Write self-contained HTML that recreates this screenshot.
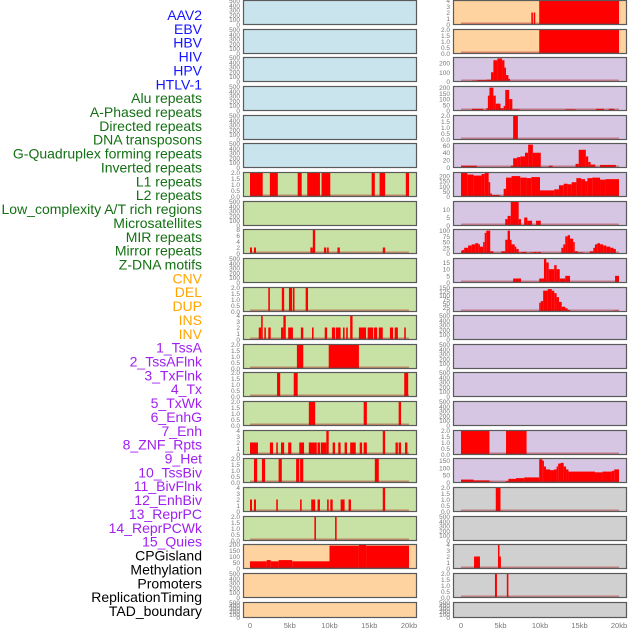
<!DOCTYPE html>
<html><head><meta charset="utf-8"><style>
html,body{margin:0;padding:0;background:#fff;width:630px;height:630px;overflow:hidden}
svg{display:block;font-family:"Liberation Sans",sans-serif}
</style></head><body>
<svg id="chart" width="630" height="630" viewBox="0 0 630 630" xmlns="http://www.w3.org/2000/svg"></svg>
<script>
// ---- track labels ----
const labelNames = ["AAV2","EBV","HBV","HIV","HPV","HTLV-1","Alu repeats","A-Phased repeats","Directed repeats","DNA transposons","G-Quadruplex forming repeats","Inverted repeats","L1 repeats","L2 repeats","Low_complexity A/T rich regions","Microsatellites","MIR repeats","Mirror repeats","Z-DNA motifs","CNV","DEL","DUP","INS","INV","1_TssA","2_TssAFlnk","3_TxFlnk","4_Tx","5_TxWk","6_EnhG","7_Enh","8_ZNF_Rpts","9_Het","10_TssBiv","11_BivFlnk","12_EnhBiv","13_ReprPC","14_ReprPCWk","15_Quies","CPGisland","Methylation","Promoters","ReplicationTiming","TAD_boundary"];
const labelGroups = [6,13,5,15,5];
const groupColors = ["#1515ff","#137013","#ffa500","#a020f0","#000000"];

// ---- x axis ----
const xTicks = [0,5,10,15,20];
const xTickLabels = ["0","5kb","10kb","15kb","20kb"];

// ---- left column panel data: [startKb, endKb, value] ----
const L6 = [[0,1.6,2],[2.5,3.5,2],[6,6.5,2],[7.2,8.8,2],[9,10.1,2],[15.3,15.7,2],[16.3,17,2],[19.6,20,2]];
const L8 = [[0,0.25,2],[0.5,0.75,2],[7.6,7.9,2],[7.9,8.2,8],[9.3,9.6,2],[9.7,9.9,2],[11,11.3,2],[16.7,17,2]];
const L10 = [[2.3,2.5,2],[4,4.3,2],[4.9,5.3,2],[5.4,5.6,2],[7,7.3,2]];
const L11 = [[1.1,1.4,2],[1.4,1.6,4],[1.8,2.0,2],[2.3,2.6,2],[3.9,4.2,2],[4.2,4.5,4],[4.8,5.4,2],[6.4,6.7,2],[7.8,8.0,2],[9.4,9.7,2],[10.3,10.7,2],[10.8,11.4,2],[11.7,11.9,2],[12.1,12.3,2],[12.6,12.9,4],[13.7,14.6,2],[14.8,15.5,2],[15.6,16.0,2],[16.2,16.7,2],[17.6,18.0,2],[18.2,18.6,2],[19.4,19.6,2]];
const L12 = [[5.9,6.7,2],[9.9,13.7,2]];
const L13 = [[3.4,3.8,2],[5.5,6.0,2],[19.4,19.9,2]];
const L14 = [[7.4,8.2,2],[14.3,14.7,2],[18.7,19.0,2]];
const L15 = [[0,1.0,2],[2.5,2.9,2],[3.3,3.5,2],[3.9,4.3,2],[4.8,5.2,2],[6.2,6.8,2],[7.4,8.4,2],[8.5,8.8,2],[8.9,9.6,2],[9.6,9.9,4],[10.4,10.7,2],[11.1,11.4,2],[11.9,12.2,2],[12.6,13.3,2],[13.8,14.1,2],[14.3,14.7,2],[16.7,17,4],[18.3,18.6,2],[18.7,19,2],[19.5,19.8,2]];
const L16 = [[0.5,0.9,2],[1.5,1.9,2],[3.6,4.0,2],[5.8,6.2,2],[6.3,6.7,2],[15.7,16.2,2]];
const L17 = [[0,0.25,2],[0.5,0.75,2],[3.3,3.5,2],[6.3,6.5,2],[7.7,8.2,2],[8.5,8.8,2],[9.7,9.9,2],[10.1,10.4,2],[11.4,11.9,2],[12.4,12.7,2],[16.7,17,4]];
const L18 = [[8.1,8.3,2],[10.7,10.9,2]];
const L19 = [[0,2.1,60],[2.1,2.6,70],[2.6,3.6,60],[3.6,5.3,70],[5.3,10,60],[10,13.7,190],[13.7,14.6,200],[14.6,20,190]];

// ---- right column panel data ----
const R0 = [[8.9,9.1,2],[9.2,9.4,2],[9.9,20,4]];
const R1 = [[9.9,20,2]];
const R2 = [[1.4,2.0,10],[2.0,3.2,15],[3.2,3.8,20],[3.8,4.1,100],[4.1,4.6,230],[4.6,5.2,250],[5.2,5.5,230],[5.5,5.7,150],[5.7,6.0,70],[6.0,6.2,30]];
const R3 = [[1.4,2.8,15],[3.2,3.4,20],[3.4,3.6,130],[3.6,4.1,200],[4.1,4.4,130],[4.4,5.0,60],[5.0,5.4,20],[5.4,5.6,40],[5.6,6.1,180],[6.1,6.5,100],[6.5,7.4,10],[13.2,14.5,10],[17.1,18.1,15],[18.7,19.4,15]];
const R4 = [[6.6,7.2,2]];
const R5 = [[0,2.0,5],[6.3,6.6,5],[6.6,7.1,25],[7.1,7.5,28],[7.5,8.1,30],[8.1,8.5,40],[8.5,9.1,62],[9.1,10.1,40],[11.1,11.6,5],[14.5,14.9,10],[14.9,15.8,48],[15.8,16.1,30],[16.1,16.4,15],[16.4,17.0,8],[17.6,19.6,7]];
const R6 = [[0,0.8,230],[0.8,1.6,215],[1.6,2.6,205],[2.6,3.0,220],[3.0,3.5,230],[3.5,3.7,140],[3.7,3.9,30],[3.9,4.9,15],[4.9,5.4,5],[5.4,5.7,75],[5.7,6.4,185],[6.4,7.5,200],[7.5,8.3,185],[8.3,8.9,180],[8.9,10.0,190],[10.0,11.8,60],[11.8,12.4,70],[12.4,13.0,110],[13.0,13.5,125],[13.5,14.0,120],[14.0,14.6,140],[14.6,15.2,180],[15.2,15.7,170],[15.7,16.0,150],[16.0,16.6,180],[16.6,17.6,185],[17.6,18.3,165],[18.3,20,170]];
const R7 = [[5.6,5.9,4],[5.9,6.3,6],[6.3,7.3,15],[7.3,7.6,4],[8.0,8.4,5],[8.4,9.0,3],[9.5,10.1,3]];
const R8 = [[0,0.1,10],[0.1,0.4,15],[0.4,0.9,25],[0.9,1.35,35],[1.35,1.8,40],[1.8,2.2,45],[2.2,2.4,40],[2.4,2.8,30],[2.8,3.0,50],[3.0,3.2,90],[3.2,3.7,100],[3.7,4.1,10],[5.1,5.6,10],[5.6,5.9,60],[5.9,6.2,100],[6.2,6.4,60],[6.4,6.8,40],[6.8,7.0,30],[7.0,7.3,20],[7.3,7.7,5],[7.7,8.3,7],[8.7,9.2,5],[9.2,9.6,7],[9.7,10.1,7],[12.7,12.95,25],[12.95,13.2,40],[13.2,13.5,75],[13.5,13.8,80],[13.8,14.2,65],[14.2,14.4,50],[14.4,14.8,10],[14.8,15.5,5],[16.3,16.75,10],[16.75,16.96,25],[16.96,17.25,40],[17.25,17.6,45],[17.6,18.0,40],[18.0,18.4,35],[18.4,18.9,30],[18.9,19.3,25],[19.3,19.6,20]];
const R9 = [[6.6,7.6,3],[9.9,10.5,3],[10.5,10.8,18],[10.8,11.1,15],[11.1,11.8,10],[11.8,12.1,13],[12.1,12.5,10],[12.5,13.2,3],[13.2,13.8,5],[19.5,20,5]];
const R10 = [[9.9,10.1,55],[10.1,10.4,65],[10.4,10.97,130],[10.97,11.5,140],[11.5,11.8,130],[11.8,12.1,115],[12.1,12.4,90],[12.4,12.75,60],[12.75,13.2,30],[13.2,13.5,20],[13.5,13.8,10],[19.3,20,5]];
const R15 = [[0,3.6,2],[5.7,8.3,2]];
const R16 = [[0,1.6,20],[1.6,3.6,15],[3.6,4.1,5],[5.7,6.0,10],[6.0,6.96,25],[6.96,8.0,30],[8.0,9.9,35],[9.9,10.3,160],[10.3,10.5,150],[10.5,10.76,110],[10.76,11.27,90],[11.27,11.77,85],[11.77,12.1,90],[12.1,12.3,110],[12.3,12.6,130],[12.6,13.0,135],[13.0,13.3,110],[13.3,13.6,90],[13.6,16.96,75],[16.96,17.9,70],[17.9,19.1,75],[19.1,19.4,80],[19.4,20,90]];
const R17 = [[4.4,5.0,2]];
const R19 = [[1.65,2.4,2],[4.68,4.85,4],[4.85,5.05,2]];
const R20 = [[4.3,4.55,2],[5.8,6.0,2]];

// ---- y tick label sets ----
const T500 = ["0","100","200","300","400","500"];
const T2 = ["0.0","0.5","1.0","1.5","2.0"];
const T4 = ["0","1","2","3","4"];
const T8 = ["0","2","4","6","8"];
const T200 = ["0","50","100","150","200"];

const leftData = [null,null,null,null,null,null,L6,null,L8,null,L10,L11,L12,L13,L14,L15,L16,L17,L18,L19,null,null];
const leftMax  = [500,500,500,500,500,500,2,500,8,500,2,4,2,2,2,4,2,4,2,200,500,500];
const leftTicks= [T500,T500,T500,T500,T500,T500,T2,T500,T8,T500,T2,T4,T2,T2,T2,T4,T2,T4,T2,T200,T500,T500];
const leftBg   = ["#c9e4ec","#c9e4ec","#c9e4ec","#c9e4ec","#c9e4ec","#c9e4ec","#c8e1a4","#c8e1a4","#c8e1a4","#c8e1a4","#c8e1a4","#c8e1a4","#c8e1a4","#c8e1a4","#c8e1a4","#c8e1a4","#c8e1a4","#c8e1a4","#c8e1a4","#ffd39f","#ffd39f","#ffd39f"];

const rightData = [R0,R1,R2,R3,R4,R5,R6,R7,R8,R9,R10,null,null,null,null,R15,R16,R17,null,R19,R20,null];
const rightMax  = [4,2,260,210,2,65,235,15,105,18,150,500,500,500,500,2,165,2,500,4,2,500];
const rightTicks= [T4,T2,["0","100","200"],T200,T2,["0","20","40","60"],T200,["0","5","10"],["0","25","50","75","100"],["0","5","10","15"],["0","25","50","75","100","125","150"],T500,T500,T500,T500,T2,["0","50","100","150"],T2,T500,T4,T2,T500];
const rightBg   = ["#ffd39f","#ffd39f","#d6c6e3","#d6c6e3","#d6c6e3","#d6c6e3","#d6c6e3","#d6c6e3","#d6c6e3","#d6c6e3","#d6c6e3","#d6c6e3","#d6c6e3","#d6c6e3","#d6c6e3","#d6c6e3","#d6c6e3","#d0d0d0","#d0d0d0","#d0d0d0","#d0d0d0","#d0d0d0"];

const NS = "http://www.w3.org/2000/svg";
const svg = document.getElementById("chart");
function mk(tag, attrs, parent){
  const e = document.createElementNS(NS, tag);
  for (const k in attrs) e.setAttribute(k, attrs[k]);
  (parent||svg).appendChild(e);
  return e;
}

// labels
let idx = 0;
labelGroups.forEach((n, g) => {
  for (let i = 0; i < n; i++) {
    const t = mk("text", {x:202, y:(20 + idx*13.86).toFixed(1), "text-anchor":"end", "font-size":"14", fill:groupColors[g]});
    
    
    t.textContent = labelNames[idx];
    idx++;
  }
});

function panelTop(i){ return Math.round(i*28.65); }
function panelH(i){ return i === 21 ? 15 : 24; }

function drawColumn(cfg){
  const xs = kb => cfg.x0 + kb * (cfg.x20 - cfg.x0) / 20;
  for (let i = 0; i < 22; i++) {
    const top = panelTop(i), h = panelH(i);
    const g = mk("g", {});
    
    
    mk("rect", {x:cfg.left, y:top+0.5, width:cfg.right-cfg.left, height:h, fill:cfg.bg[i], stroke:"none"}, g);
    const ymax = cfg.max[i];
    const ys = v => top + 0.5 + h - (v / ymax) * h;
    const segs = cfg.data[i];
    if (segs) {
      segs.forEach(s => {
        const b = mk("rect", {x:xs(s[0]).toFixed(2), y:ys(s[2]).toFixed(2), width:Math.max(1.5, xs(s[1]) - xs(s[0])).toFixed(2), height:(top + 0.5 + h - ys(s[2])).toFixed(2), fill:"#ff0000"}, g);
        
        
      });
      const bl = mk("rect", {x:xs(0), y:top + h - 1.5, width:xs(20) - xs(0), height:2, fill:"rgba(170,30,30,0.45)"}, g);
      
      
    }
    const fr = mk("rect", {x:cfg.left + 0.5, y:top + 0.5, width:cfg.right - cfg.left - 1, height:h, fill:"none", stroke:"#5a5a5a", "stroke-width":1.2}, g);
    
    
    const ticks = cfg.ticks[i];
    ticks.forEach(lbl => {
      const v = parseFloat(lbl);
      const t = mk("text", {x:cfg.left - 3, y:(ys(v) + 2.5).toFixed(1), "text-anchor":"end", "font-size":"6.5", fill:"#777"}, g);
      
      
      t.textContent = lbl;
    });
  }
  xTicks.forEach((k, j) => {
    const t = mk("text", {x:xs(k), y:628, "text-anchor":"middle", "font-size":"7.5", fill:"#777"});
    
    
    t.textContent = xTickLabels[j];
  });
}

drawColumn({name:"left", left:243, right:417, x0:250, x20:409, data:leftData, max:leftMax, ticks:leftTicks, bg:leftBg});
drawColumn({name:"right", left:453, right:627, x0:461, x20:619, data:rightData, max:rightMax, ticks:rightTicks, bg:rightBg});
</script>
</body></html>
